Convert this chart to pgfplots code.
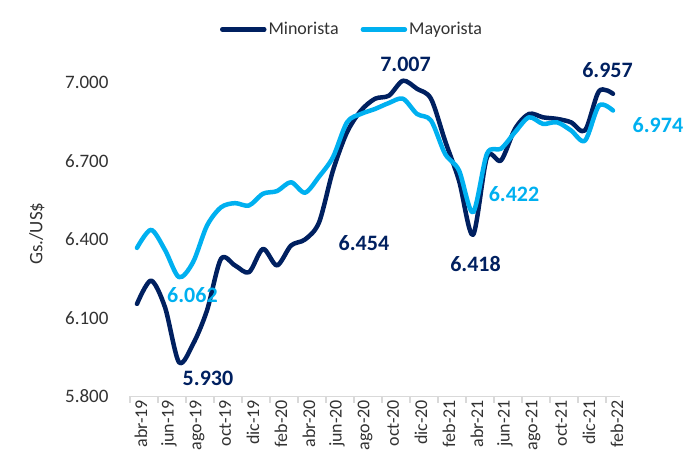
\documentclass[border=0pt]{standalone}
\usepackage{pgfplots}
\pgfplotsset{compat=1.18}
\usepackage{fontspec}
\setmainfont{Carlito}
\definecolor{navy}{RGB}{0,32,96}
\definecolor{lblue}{RGB}{0,176,240}
\definecolor{axgray}{RGB}{217,217,217}
\definecolor{txtgray}{RGB}{50,50,50}
\pgfplotstableread{
i v
0 6154
1 6243
2 6141
3 5931
4 6000
5 6129
6 6326
7 6301
8 6275
9 6364
10 6301
11 6377
12 6400
13 6465
14 6664
15 6810
16 6893
17 6938
18 6950
19 7007
20 6976
21 6938
22 6778
23 6625
24 6418
25 6715
26 6702
27 6823
28 6880
29 6867
30 6861
31 6848
32 6817
33 6967
34 6957
}\minorista
\pgfplotstableread{
i v
0 6368
1 6437
2 6360
3 6256
4 6313
5 6453
6 6523
7 6539
8 6530
9 6575
10 6585
11 6619
12 6579
13 6640
14 6715
15 6848
16 6880
17 6899
18 6922
19 6938
20 6880
21 6855
22 6728
23 6664
24 6504
25 6728
26 6747
27 6810
28 6867
29 6842
30 6848
31 6817
32 6778
33 6912
34 6893
}\mayorista
\begin{document}
\begin{tikzpicture}
\useasboundingbox (0,0) rectangle (700bp,473bp);
\begin{axis}[
  at={(130bp,76.5bp)}, anchor=south west,
  scale only axis, width=490bp, height=366.3bp,
  xmin=-0.5, xmax=34.5, ymin=5800, ymax=7200,
  clip=false,
  axis lines*=left,
  y axis line style={draw=none},
  x axis line style={draw=axgray, line width=1.5bp},
  ytick={5800,6100,6400,6700,7000},
  ytick style={draw=none},
  major tick length=0pt,
  yticklabel style={font=\fontsize{19bp}{22bp}\selectfont, text=txtgray, anchor=east, xshift=-18bp},
  /pgf/number format/.cd, 1000 sep={.}, assume math mode=true, /pgfplots/.cd,
  xtick={0,2,...,34},
  xticklabels={abr-19,jun-19,ago-19,oct-19,dic-19,feb-20,abr-20,jun-20,ago-20,oct-20,dic-20,feb-21,abr-21,jun-21,ago-21,oct-21,dic-21,feb-22},
  xticklabel style={font=\fontsize{18bp}{21bp}\selectfont, text=txtgray, rotate=90, anchor=east, xshift=0bp, yshift=-4bp},
  minor xtick={-0.5,1.5,...,33.5},
  minor tick length=6bp,
  minor x tick style={draw=axgray, line width=1.5bp},
  xtick pos=bottom,
  tick align=outside,
  ylabel={Gs./US\$},
  ylabel style={at={(axis description cs:-0.19,0.445)}, rotate=0, anchor=center, font=\fontsize{19bp}{22bp}\selectfont, text=txtgray},
  legend columns=2,
  legend style={at={(axis description cs:0.453,1.002)}, anchor=center, draw=none, fill=none,
    font=\fontsize{18bp}{21bp}\selectfont, text=txtgray,
    /tikz/every even column/.append style={column sep=20bp}},
  legend image code/.code={\draw[#1] (0bp,0bp) -- (42bp,0bp);},
]
\addplot[navy, line width=4.5bp, smooth, tension=0.5, line cap=round, line join=round] table[x=i,y=v] {\minorista};
\addlegendentry{Minorista}
\addplot[lblue, line width=4.5bp, smooth, tension=0.5, line cap=round, line join=round] table[x=i,y=v] {\mayorista};
\addlegendentry{Mayorista}
\begin{scope}[every node/.style={font=\bfseries\fontsize{22bp}{26bp}\selectfont}]
\node[text=lblue] at (axis cs:3.96,6186) {6.062};
\node[text=navy] at (axis cs:5.07,5869) {5.930};
\node[text=navy] at (axis cs:16.21,6388) {6.454};
\node[text=navy] at (axis cs:19.18,7069) {7.007};
\node[text=navy] at (axis cs:24.18,6308) {6.418};
\node[text=lblue] at (axis cs:26.93,6572) {6.422};
\node[text=navy] at (axis cs:33.61,7048) {6.957};
\node[text=lblue] at (axis cs:37.21,6838) {6.974};
\end{scope}
\end{axis}
\end{tikzpicture}
\end{document}
